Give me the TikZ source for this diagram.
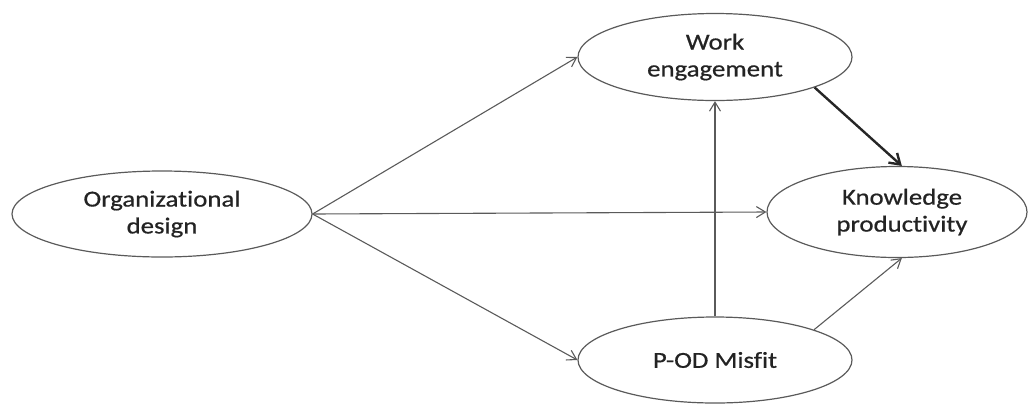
\documentclass[tikz,border=0pt]{standalone}
\usepackage{fontspec}
\setmainfont[FakeStretch=1.17,FakeBold=0.6,RawFeature={-liga,-dlig}]{Carlito}
\usetikzlibrary{shapes.geometric,arrows.meta}
\definecolor{edgegray}{RGB}{90,90,90}
\definecolor{textgray}{RGB}{35,35,35}
\begin{document}
\begin{tikzpicture}[x=1bp,y=-1bp,
  latent/.style={ellipse,draw=edgegray,line width=1.2bp,inner sep=0pt,
    align=center,text=textgray,
    font=\fontsize{23}{27}\selectfont},
  path/.style={draw=edgegray,line width=1.1bp,
    -{Straight Barb[length=9bp,width=11bp,line width=1.1bp]}},
  strong/.style={draw=black!85,line width=2.4bp,
    -{Straight Barb[length=10bp,width=13bp,line width=2.4bp]}}]
\useasboundingbox (0,0) rectangle (1032,403);
\node[latent,minimum width=300bp,minimum height=86bp] (org) at (162,214) {Organizational\\design};
\node[latent,minimum width=274bp,minimum height=87bp] (we) at (715,57) {Work\\engagement};
\node[latent,minimum width=260bp,minimum height=91bp] (kp) at (897,212) {\hspace*{10bp}Knowledge\\\hspace*{10bp}productivity};
\node[latent,minimum width=274bp,minimum height=86bp] (pm) at (715,360) {P-OD Misfit};
\draw[path] (org.east) -- (we.west);
\draw[path] (org.east) -- (kp.west);
\draw[path] (org.east) -- (pm.west);
\draw[path] (pm.north) -- (we.south);
\draw[path] (pm.17.5) -- (kp.276);
\draw[strong] (we.343) -- (kp.84);
\end{tikzpicture}
\end{document}
